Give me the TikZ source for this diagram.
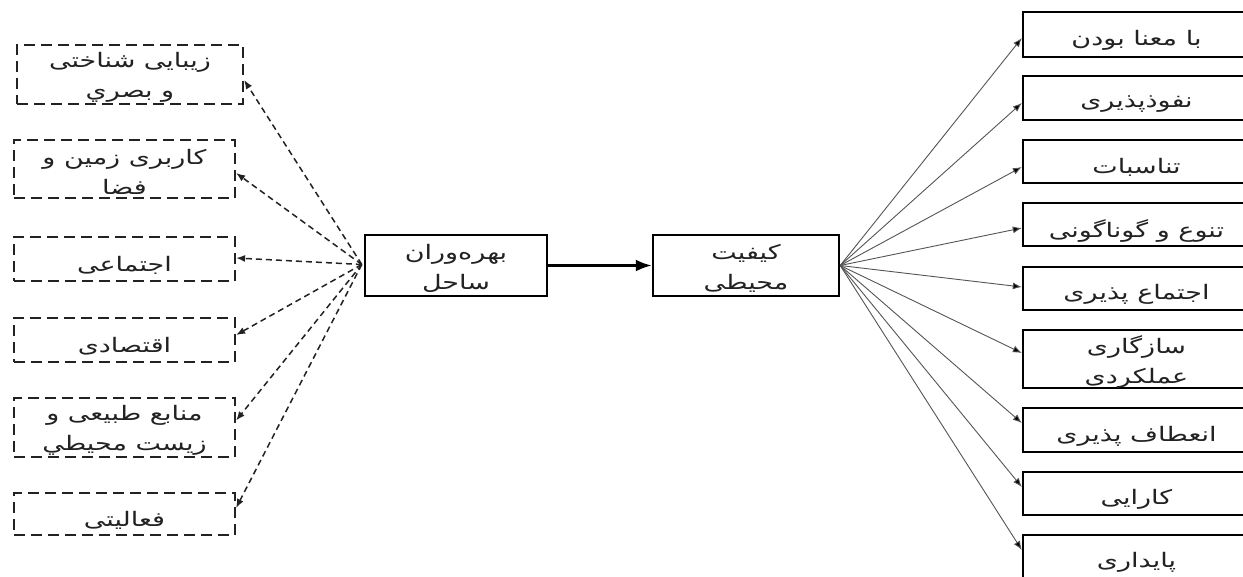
\documentclass[tikz,border=0pt]{standalone}
\usepackage{fontspec}
\setmainfont{DejaVu Sans}
\newfontfamily\fa[Script=Arabic,FakeStretch=1.35]{DejaVu Sans}
\TeXXeTstate=1
\usetikzlibrary{arrows.meta,calc}
\definecolor{ink}{HTML}{222222}
\definecolor{lineg}{HTML}{555555}
\newcommand\rl[1]{\beginR #1\endR}
% \bx{style}{name}{x,y}{height}{dy}{text}
\newcommand\bx[6]{%
  \node[#1, minimum height=#4] (#2) at (#3) {};
  \node[txt] (t#2) at ($(#2.center)+(0,#5)$) {#6};}
\tikzset{
  txt/.style={font=\fa\fontsize{20}{30}\selectfont, text=ink, align=center, inner sep=0pt},
  dbox/.style={draw=ink, line width=2.2pt, dash pattern=on 11pt off 6pt, minimum width=221pt, inner sep=0pt},
  dboxw/.style={dbox, minimum width=226pt},
  sbox/.style={draw=black, line width=2.4pt, inner sep=0pt},
  abox/.style={sbox, minimum width=182pt},
  bbox/.style={sbox, minimum width=186pt},
  rbox/.style={sbox, minimum width=227pt},
  darr/.style={draw=ink, line width=1.5pt, dash pattern=on 6pt off 4pt, -{Latex[length=9pt,width=7pt]}},
  sarr/.style={draw=lineg, line width=0.9pt, -{Latex[length=9pt,width=7pt,fill=black]}},
  marr/.style={draw=black, line width=2.6pt, -{Latex[length=16pt,width=12pt]}}
}
\begin{document}
\begin{tikzpicture}[x=1pt,y=-1pt]
\useasboundingbox (0,0) rectangle (1243,576);
\clip (0,0) rectangle (1243,576);
\fill[white] (0,0) rectangle (1243,576);
% left dashed boxes
\bx{dboxw}{L1}{130,74.5}{59pt}{3}{\rl{زیبایی شناختی}\\\rl{و بصري}}
\bx{dbox}{L2}{124.5,169}{58pt}{3}{\rl{کاربری زمین و}\\\rl{فضا}}
\bx{dbox}{L3}{124.5,259}{44pt}{6}{\rl{اجتماعی}}
\bx{dbox}{L4}{124.5,340}{44pt}{6}{\rl{اقتصادی}}
\bx{dbox}{L5}{124.5,427.5}{59pt}{3}{\rl{منابع طبیعی و}\\\rl{زیست محیطي}}
\bx{dbox}{L6}{124.5,514}{42pt}{6}{\rl{فعالیتی}}
% centre boxes
\bx{abox}{A}{456,265.5}{61pt}{3}{\rl{بهره‌وران}\\\rl{ساحل}}
\bx{bbox}{B}{746,265.5}{61pt}{3}{\rl{کیفیت}\\\rl{محیطی}}
% right boxes
\bx{rbox}{R1}{1136.5,34.5}{45pt}{6}{\rl{با معنا بودن}}
\bx{rbox}{R2}{1136.5,98}{44pt}{6}{\rl{نفوذپذیری}}
\bx{rbox}{R3}{1136.5,161.5}{43pt}{6}{\rl{تناسبات}}
\bx{rbox}{R4}{1136.5,224.5}{43pt}{6}{\rl{تنوع و گوناگونی}}
\bx{rbox}{R5}{1136.5,288.5}{43pt}{6}{\rl{اجتماع پذیری}}
\bx{rbox}{R6}{1136.5,359}{58pt}{3}{\rl{سازگاری}\\\rl{عملکردی}}
\bx{rbox}{R7}{1136.5,430}{44pt}{6}{\rl{انعطاف پذیری}}
\bx{rbox}{R8}{1136.5,493.5}{43pt}{6}{\rl{کارایی}}
\bx{rbox}{R9}{1136.5,556.5}{43pt}{6}{\rl{پایداری}}
% connectors
\coordinate (S) at ($(A.west)+(-2,-1)$);
\draw[darr] (S) -- ($(L1.east)+(0,5.5)$);
\draw[darr] (S) -- ($(L2.east)+(0,4)$);
\draw[darr] (S) -- ($(L3.east)+(0,-1)$);
\draw[darr] (S) -- ($(L4.east)+(0,-5)$);
\draw[darr] (S) -- ($(L5.east)+(0,-7)$);
\draw[darr] (S) -- ($(L6.east)+(0,-6)$);
\draw[marr] (A.east) -- (B.west);
\draw[sarr] (B.east) -- ($(R1.west)+(0,3.5)$);
\draw[sarr] (B.east) -- ($(R2.west)+(0,5)$);
\draw[sarr] (B.east) -- ($(R3.west)+(0,5.5)$);
\draw[sarr] (B.east) -- ($(R4.west)+(0,3.5)$);
\draw[sarr] (B.east) -- ($(R5.west)+(0,-1.5)$);
\draw[sarr] (B.east) -- ($(R6.west)+(0,-6)$);
\draw[sarr] (B.east) -- ($(R7.west)+(0,-7)$);
\draw[sarr] (B.east) -- ($(R8.west)+(0,-6.5)$);
\draw[sarr] (B.east) -- ($(R9.west)+(0,-6.5)$);
\end{tikzpicture}
\end{document}
